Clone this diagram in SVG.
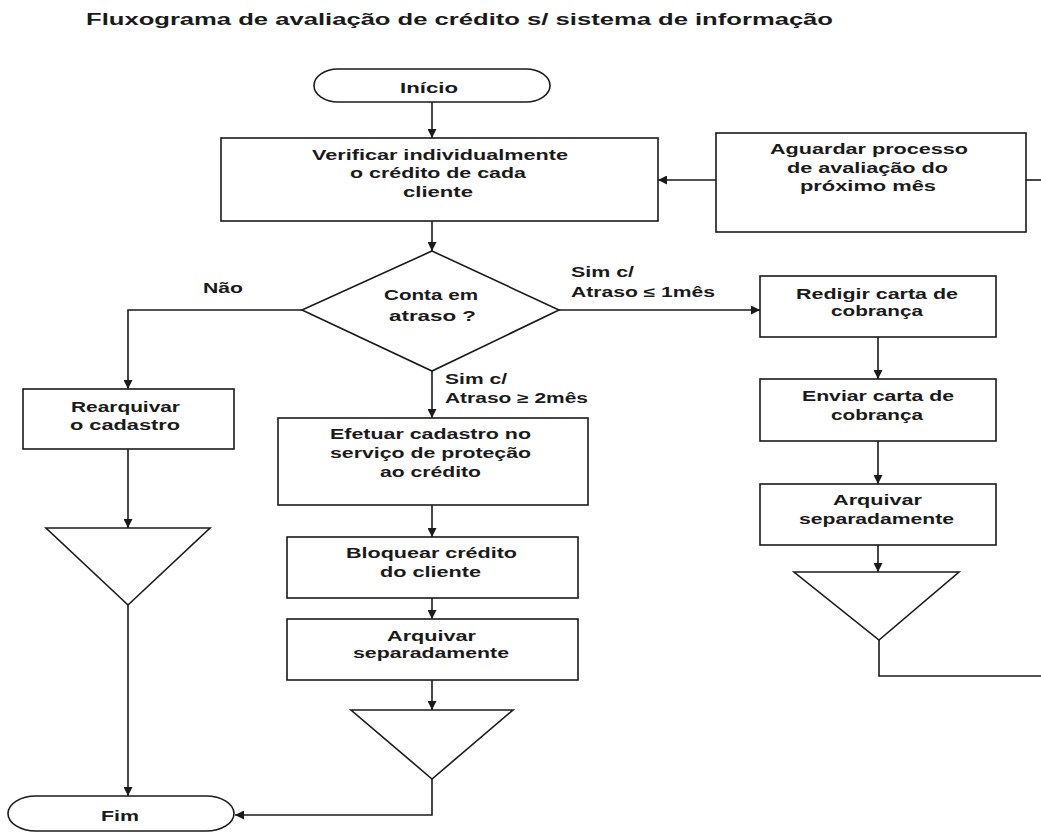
<svg xmlns="http://www.w3.org/2000/svg" width="1041" height="832" viewBox="0 0 1041 832">
<style>
.s{fill:#fff;stroke:#1a1a1a;stroke-width:1.6}
.c{fill:none;stroke:#1a1a1a;stroke-width:1.6}
text{font-family:"Liberation Sans",Arial,sans-serif;font-weight:bold;fill:#1a1a1a;font-size:14px}
.t{font-size:16px}
.d{font-size:15px}
</style>
<defs>
<marker id="ah" viewBox="0 0 10 10" refX="10" refY="5" markerWidth="9" markerHeight="9" orient="auto" markerUnits="userSpaceOnUse"><path d="M0,0 L10,5 L0,10 z" fill="#1a1a1a"/></marker>
</defs>
<rect width="1041" height="832" fill="#fff"/>
<text class="t" x="86" y="25" textLength="747" lengthAdjust="spacingAndGlyphs">Fluxograma de avaliação de crédito s/ sistema de informação</text>

<g id="connectors">
<path class="c" d="M432,102 V138" marker-end="url(#ah)"/>
<path class="c" d="M432,221 V251" marker-end="url(#ah)"/>
<path class="c" d="M716,180 H658" marker-end="url(#ah)"/>
<path class="c" d="M1026,180 H1041"/>
<path class="c" d="M302,310 H128 V389" marker-end="url(#ah)"/>
<path class="c" d="M559,310 H760" marker-end="url(#ah)"/>
<path class="c" d="M432,371 V418" marker-end="url(#ah)"/>
<path class="c" d="M432,505 V537" marker-end="url(#ah)"/>
<path class="c" d="M432,598 V619" marker-end="url(#ah)"/>
<path class="c" d="M432,680 V710" marker-end="url(#ah)"/>
<path class="c" d="M432,779 V815 H235" marker-end="url(#ah)"/>
<path class="c" d="M128,449 V528" marker-end="url(#ah)"/>
<path class="c" d="M128,605 V796" marker-end="url(#ah)"/>
<path class="c" d="M878,337 V379" marker-end="url(#ah)"/>
<path class="c" d="M878,441 V484" marker-end="url(#ah)"/>
<path class="c" d="M878,545 V572" marker-end="url(#ah)"/>
<path class="c" d="M879,640 V676 H1041"/>
<text x="203" y="293" textLength="40" lengthAdjust="spacingAndGlyphs">Não</text>
<text x="445" y="384" textLength="62" lengthAdjust="spacingAndGlyphs">Sim c/</text>
<text x="445" y="403" textLength="143" lengthAdjust="spacingAndGlyphs">Atraso ≥ 2mês</text>
<text x="571" y="277" textLength="63" lengthAdjust="spacingAndGlyphs">Sim c/</text>
<text x="571" y="297" textLength="144" lengthAdjust="spacingAndGlyphs">Atraso ≤ 1mês</text>
</g>

<g id="inicio">
<rect class="s" x="314" y="69" width="236" height="33" rx="24" ry="16.5"/>
<text x="400" y="93" textLength="58" lengthAdjust="spacingAndGlyphs">Início</text>
</g>
<g id="verificar">
<rect class="s" x="221" y="138" width="437" height="83"/>
<text x="312" y="160" textLength="256" lengthAdjust="spacingAndGlyphs">Verificar individualmente</text>
<text x="350" y="178" textLength="176" lengthAdjust="spacingAndGlyphs">o crédito de cada</text>
<text x="403" y="197" textLength="70" lengthAdjust="spacingAndGlyphs">cliente</text>
</g>
<g id="aguardar">
<rect class="s" x="716" y="133" width="310" height="99"/>
<text x="770" y="154" textLength="198" lengthAdjust="spacingAndGlyphs">Aguardar processo</text>
<text x="787" y="173" textLength="161" lengthAdjust="spacingAndGlyphs">de avaliação do</text>
<text x="800" y="191" textLength="136" lengthAdjust="spacingAndGlyphs">próximo mês</text>
</g>
<g id="decisao">
<polygon class="s" points="432,251 559,310 432,371 302,310"/>
<text class="d" x="384" y="300" textLength="94" lengthAdjust="spacingAndGlyphs">Conta em</text>
<text class="d" x="389" y="321" textLength="87" lengthAdjust="spacingAndGlyphs">atraso ?</text>
</g>
<g id="rearquivar">
<rect class="s" x="23" y="389" width="211" height="60"/>
<text x="71" y="412" textLength="109" lengthAdjust="spacingAndGlyphs">Rearquivar</text>
<text x="70" y="430" textLength="110" lengthAdjust="spacingAndGlyphs">o cadastro</text>
</g>
<g id="arquivo-esq">
<polygon class="s" points="46,528 210,528 128,605"/>
</g>
<g id="fim">
<rect class="s" x="8" y="796" width="226" height="35" rx="28" ry="17.5"/>
<text x="101" y="821" textLength="38" lengthAdjust="spacingAndGlyphs">Fim</text>
</g>
<g id="efetuar">
<rect class="s" x="278" y="418" width="310" height="87"/>
<text x="330" y="439" textLength="201" lengthAdjust="spacingAndGlyphs">Efetuar cadastro no</text>
<text x="330" y="458" textLength="201" lengthAdjust="spacingAndGlyphs">serviço de proteção</text>
<text x="380" y="477" textLength="101" lengthAdjust="spacingAndGlyphs">ao crédito</text>
</g>
<g id="bloquear">
<rect class="s" x="287" y="537" width="291" height="61"/>
<text x="346" y="558" textLength="171" lengthAdjust="spacingAndGlyphs">Bloquear crédito</text>
<text x="380" y="577" textLength="101" lengthAdjust="spacingAndGlyphs">do cliente</text>
</g>
<g id="arquivar-meio">
<rect class="s" x="287" y="619" width="291" height="61"/>
<text x="387" y="641" textLength="89" lengthAdjust="spacingAndGlyphs">Arquivar</text>
<text x="353" y="658" textLength="156" lengthAdjust="spacingAndGlyphs">separadamente</text>
</g>
<g id="arquivo-meio">
<polygon class="s" points="351,710 513,710 432,779"/>
</g>
<g id="redigir">
<rect class="s" x="760" y="276" width="236" height="61"/>
<text x="796" y="299" textLength="162" lengthAdjust="spacingAndGlyphs">Redigir carta de</text>
<text x="831" y="316" textLength="92" lengthAdjust="spacingAndGlyphs">cobrança</text>
</g>
<g id="enviar">
<rect class="s" x="760" y="379" width="236" height="62"/>
<text x="802" y="401" textLength="152" lengthAdjust="spacingAndGlyphs">Enviar carta de</text>
<text x="831" y="420" textLength="92" lengthAdjust="spacingAndGlyphs">cobrança</text>
</g>
<g id="arquivar-dir">
<rect class="s" x="760" y="484" width="236" height="61"/>
<text x="833" y="505" textLength="89" lengthAdjust="spacingAndGlyphs">Arquivar</text>
<text x="799" y="524" textLength="155" lengthAdjust="spacingAndGlyphs">separadamente</text>
</g>
<g id="arquivo-dir">
<polygon class="s" points="794,572 959,572 879,640"/>
</g>
</svg>
